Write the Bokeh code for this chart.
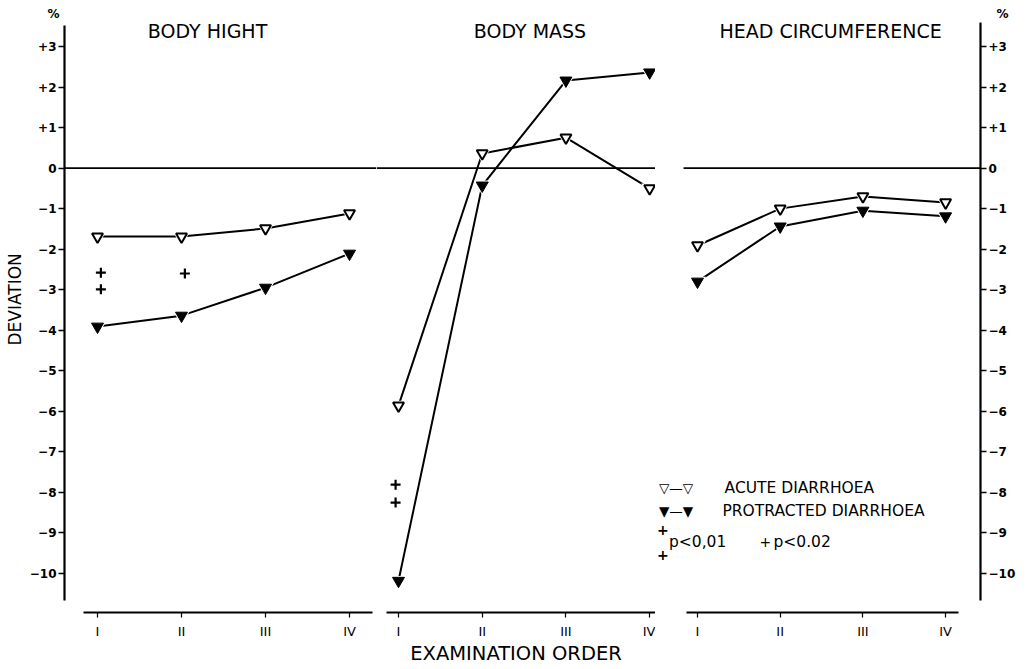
from bokeh.plotting import figure
from bokeh.models import (Range1d, FixedTicker, LinearAxis, Span, Label, ColumnDataSource,
                          BoxAnnotation, Title)
from bokeh.layouts import row
from bokeh.transform import dodge
from bokeh.embed import file_html
from bokeh.resources import INLINE

# ---------------- data ----------------
exam_order = ["I", "II", "III", "IV"]
panel_titles = ["BODY HIGHT", "BODY MASS", "HEAD CIRCUMFERENCE"]

height_acute = [-1.69, -1.69, -1.49, -1.12]
height_protracted = [-3.91, -3.64, -2.95, -2.11]
mass_acute = [-5.86, 0.36, 0.75, -0.50]
mass_protracted = [-10.18, -0.43, 2.16, 2.36]
head_acute = [-1.91, -1.00, -0.70, -0.85]
head_protracted = [-2.80, -1.44, -1.05, -1.19]

# significance marks (+)
height_sig_exam = ["I", "I", "II"]
height_sig_dev = [-2.58, -2.99, -2.60]
mass_sig_exam = ["I", "I"]
mass_sig_dev = [-7.81, -8.25]

y_ticks = [3, 2, 1, 0, -1, -2, -3, -4, -5, -6, -7, -8, -9, -10]
y_tick_labels = ["+3", "+2", "+1", "0", "\u22121", "\u22122", "\u22123", "\u22124",
                 "\u22125", "\u22126", "\u22127", "\u22128", "\u22129", "\u221210"]

legend_acute = "ACUTE DIARRHOEA"
legend_protracted = "PROTRACTED DIARRHOEA"
legend_p01 = "p<0,01"
legend_p02 = "p<0.02"
x_title = "EXAMINATION ORDER"
y_title = "DEVIATION"
unit = "%"

# ---------------- style ----------------
FONT = "DejaVu Sans"
H = 668
MBT = 22
MBB = 56
y_range = Range1d(-10.962, 3.591)

xs = [exam_order.index(c) + 1 for c in exam_order]


def make_panel(w, x_start, x_end, bounds, mbl, mbr):
    p = figure(width=w, height=H, x_range=Range1d(x_start, x_end), y_range=y_range,
               output_backend="svg", toolbar_location=None, y_axis_location=None,
               min_border_left=mbl, min_border_right=mbr, min_border_top=MBT,
               min_border_bottom=MBB)
    p.xgrid.visible = False
    p.ygrid.visible = False
    p.outline_line_color = None
    p.background_fill_color = "white"
    p.border_fill_color = "white"
    ax = p.xaxis[0]
    ax.ticker = FixedTicker(ticks=xs)
    ax.major_label_overrides = {x: lab for x, lab in zip(xs, exam_order)}
    ax.bounds = bounds
    ax.axis_line_width = 2
    ax.axis_line_color = "black"
    ax.major_tick_out = 5
    ax.major_tick_in = 0
    ax.major_tick_line_width = 1.2
    ax.minor_tick_line_color = None
    ax.major_label_standoff = 6
    ax.major_label_text_font = FONT
    ax.major_label_text_font_size = "13px"
    ax.major_label_text_color = "black"
    return p


def style_yaxis(ax):
    ax.ticker = FixedTicker(ticks=y_ticks)
    ax.major_label_overrides = {t: lab for t, lab in zip(y_ticks, y_tick_labels)}
    ax.axis_line_width = 2.2
    ax.axis_line_color = "black"
    ax.major_tick_out = 6
    ax.major_tick_in = 0
    ax.major_tick_line_width = 1.5
    ax.minor_tick_line_color = None
    ax.major_label_standoff = 2
    ax.major_label_text_font = FONT
    ax.major_label_text_font_size = "12px"
    ax.major_label_text_font_style = "bold"
    ax.major_label_text_color = "black"


def set_unit_title(p, align, offset):
    p.title.text = unit
    p.title.align = align
    p.title.offset = offset
    p.title.standoff = 4
    p.title.text_font = FONT
    p.title.text_font_size = "12px"
    p.title.text_font_style = "bold"
    p.title.text_color = "black"


def draw_panel(p, acute, protracted, title, title_x):
    sa = ColumnDataSource(dict(x=xs, y=acute))
    sp = ColumnDataSource(dict(x=xs, y=protracted))
    for s in (sa, sp):
        p.line("x", "y", source=s, line_color="black", line_width=2)
    for s in (sa, sp):
        p.scatter("x", "y", source=s, marker="inverted_triangle", size=17,
                  fill_color="white", line_color=None)
    p.scatter("x", "y", source=sa, marker="inverted_triangle", size=11,
              fill_color="white", line_color="black", line_width=2)
    p.scatter("x", "y", source=sp, marker="inverted_triangle", size=12,
              fill_color="black", line_color="black", line_width=1)
    p.add_layout(Label(x=title_x, y=3.37, text=title, text_font=FONT,
                       text_font_size="19px", text_align="center",
                       text_baseline="middle", text_color="black"))


def draw_sig(p, exam, dev, off):
    s = ColumnDataSource(dict(x=[exam_order.index(c) + 1 for c in exam], y=dev))
    p.scatter(dodge("x", off), "y", source=s, marker="cross", size=10,
              line_color="black", line_width=2.2)


# panel 1 : body height
p1 = make_panel(376, 0.607, 4.321, (0.833, 4.274), 64, 0)
p1.add_layout(Span(location=0, dimension="width", line_color="black", line_width=1.6))
ly = LinearAxis()
style_yaxis(ly)
ly.bounds = (-10.67, 3.52)
p1.add_layout(ly, "left")
p1.add_layout(Title(text=y_title, align="left", offset=267, standoff=3,
                    text_font=FONT, text_font_size="17px", text_font_style="normal",
                    text_color="black"), "left")
set_unit_title(p1, "left", -17)
draw_panel(p1, height_acute, height_protracted, panel_titles[0], 2.31)
draw_sig(p1, height_sig_exam, height_sig_dev, 0.04)

# panel 2 : body mass
p2 = make_panel(279, 0.737, 4.070, (0.857, 4.2), 0, 0)
p2.add_layout(Span(location=0, dimension="width", line_color="black", line_width=1.6))
p2.xaxis[0].axis_label = x_title
p2.xaxis[0].axis_label_text_font = FONT
p2.xaxis[0].axis_label_text_font_size = "19.5px"
p2.xaxis[0].axis_label_text_font_style = "normal"
p2.xaxis[0].axis_label_text_color = "black"
p2.xaxis[0].axis_label_standoff = 0
draw_panel(p2, mass_acute, mass_protracted, panel_titles[1], 2.57)
draw_sig(p2, mass_sig_exam, mass_sig_dev, -0.035)

# panel 3 : head circumference
p3 = make_panel(365, 0.4921, 4.422, (0.867, 4.156), 0, 40)
# zero line of this panel starts after a small gap
p3.add_layout(BoxAnnotation(left=0.831, top=0, bottom=0, fill_alpha=0,
                            line_color="black", line_alpha=1, line_width=1.6))
ry = LinearAxis()
style_yaxis(ry)
ry.bounds = (-10.67, 3.59)
p3.add_layout(ry, "right")
set_unit_title(p3, "right", -28)
draw_panel(p3, head_acute, head_protracted, panel_titles[2], 2.61)

# legend
lg = dict(text_font=FONT, text_baseline="middle", text_color="black")
p3.add_layout(Label(x=0.533, y=-7.89, text="\u25bd\u2014\u25bd", text_font_size="13.5px", **lg))
p3.add_layout(Label(x=0.533, y=-8.47, text="\u25bc\u2014\u25bc", text_font_size="13.5px", **lg))
p3.add_layout(Label(x=1.327, y=-7.89, text=legend_acute, text_font_size="15.5px", **lg))
p3.add_layout(Label(x=1.302, y=-8.47, text=legend_protracted, text_font_size="15.5px", **lg))
p3.add_layout(Label(x=0.58, y=-8.93, text="+", text_font_size="14px", text_font_style="bold",
                    text_align="center", **lg))
p3.add_layout(Label(x=0.58, y=-9.55, text="+", text_font_size="14px", text_font_style="bold",
                    text_align="center", **lg))
p3.add_layout(Label(x=0.655, y=-9.23, text=legend_p01, text_font_size="15.5px", **lg))
p3.add_layout(Label(x=1.822, y=-9.23, text="+", text_font_size="14px",
                    text_align="center", **lg))
p3.add_layout(Label(x=1.919, y=-9.23, text=legend_p02, text_font_size="15.5px", **lg))

layout = row(p1, p2, p3)
open("out.html", "w").write(file_html(layout, INLINE))
